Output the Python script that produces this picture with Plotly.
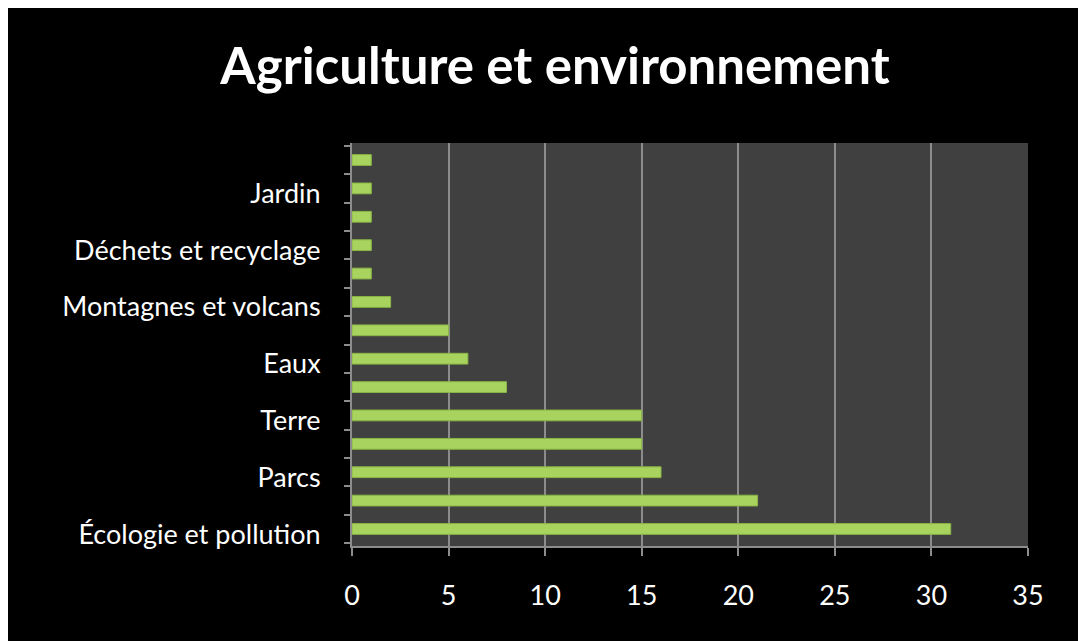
import plotly.graph_objects as go

# Data (bottom to top)
values = [31, 21, 16, 15, 15, 8, 6, 5, 2, 1, 1, 1, 1, 1]
labels = ["Écologie et pollution", "", "Parcs", "", "Terre", "", "Eaux", "",
          "Montagnes et volcans", "", "Déchets et recyclage", "", "Jardin", ""]
x_ticks = [0, 5, 10, 15, 20, 25, 30, 35]
title_text = "Agriculture et environnement"

W, H = 1086, 641
OFF = 8  # page body margin
L, R, T, B = 352 - OFF, 1086 - (1037 - OFF), 143 - OFF, 641 - (546 - OFF)
PW, PH = W - L - R, H - T - B

def px(xp):
    return (xp - OFF - L) / PW

idx = list(range(len(values)))
tickvals = [i - 0.18 for i, lab in zip(idx, labels) if lab]
ticktext = [lab for lab in labels if lab]

FONT = "Lato, 'Open Sans', sans-serif"

fig = go.Figure()
fig.add_trace(go.Bar(
    x=values, y=idx, orientation="h", width=0.38,
    marker=dict(color="#a8d35e", line=dict(color="#8ab446", width=1)),
    hoverinfo="x", showlegend=False,
))
# invisible trace to activate back-wall grid axis
fig.add_trace(go.Scatter(
    x=values, y=idx, xaxis="x2", mode="markers",
    marker=dict(opacity=0), hoverinfo="skip", showlegend=False,
))

fig.update_layout(
    width=W, height=H,
    margin=dict(l=L, r=R, t=T, b=B),
    paper_bgcolor="black",
    plot_bgcolor="#404040",
    font=dict(family=FONT, color="white", size=27),
    title=dict(text=title_text, x=(555 - OFF) / W, xanchor="center",
               y=1 - 58 / H, yanchor="middle", yref="container",
               font=dict(family=FONT, size=51, color="white", weight="bold")),
    xaxis=dict(
        range=[0, 35], domain=[0, px(1028)], tickvals=x_ticks,
        showgrid=False, zeroline=False,
        showline=True, linecolor="#8c8c8c", linewidth=2,
        ticks="outside", ticklen=8, tickwidth=2, tickcolor="#8c8c8c",
        ticklabelstandoff=17,
        tickfont=dict(family=FONT, size=27, color="white"),
    ),
    xaxis2=dict(
        range=[0, 35], domain=[px(361), 1], overlaying="x", anchor="y",
        tickvals=x_ticks, showticklabels=False,
        showgrid=True, gridcolor="#8c8c8c", gridwidth=2,
        zeroline=True, zerolinecolor="#8c8c8c", zerolinewidth=2,
        showline=False, ticks="",
    ),
    yaxis=dict(
        range=[-0.6, 13.6], tickvals=tickvals, ticktext=ticktext,
        showgrid=False, zeroline=False,
        showline=True, linecolor="#8c8c8c", linewidth=2,
        ticks="", ticklabelstandoff=24,
        tickfont=dict(family=FONT, size=27, color="white"),
        minor=dict(ticks="outside", tick0=0.5, dtick=1, ticklen=6,
                   tickwidth=2, tickcolor="#8c8c8c", showgrid=False),
    ),
)

fig.write_html("out.html")
